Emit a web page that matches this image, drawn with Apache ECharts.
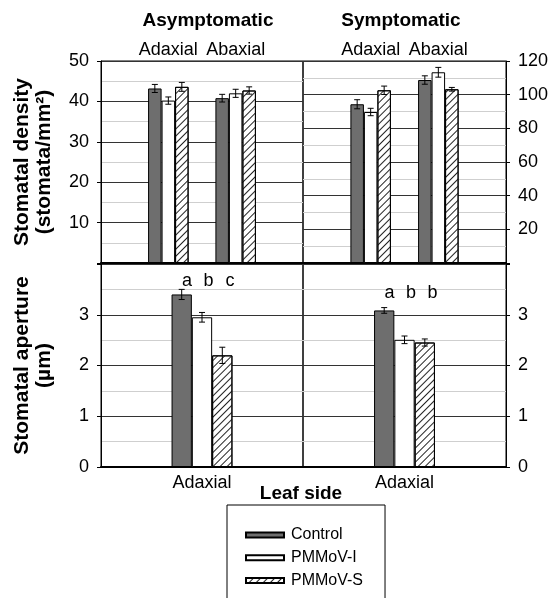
<!DOCTYPE html>
<html>
<head>
<meta charset="utf-8">
<script src="https://cdn.jsdelivr.net/npm/echarts@6/dist/echarts.min.js"></script>
<style>
  html, body { margin: 0; padding: 0; background: #fff; }
  #chart { width: 550px; height: 598px; }
</style>
</head>
<body>
<div id="chart"></div>
<script>
const FONT = '"Liberation Sans", Arial, sans-serif';

const treatments = ['Control', 'PMMoV-I', 'PMMoV-S'];
const densitySides = ['Adaxial', 'Abaxial'];
const apertureSides = ['Adaxial'];
const panelTitles = ['Asymptomatic', 'Symptomatic'];

// rows follow treatments, columns follow leaf sides
const densityAsym = [[43.2, 40.8], [40.2, 42.0], [43.6, 42.7]];
const densityAsymErr = [[1.0, 0.95], [0.9, 1.0], [1.1, 0.9]];
const densitySym = [[94.3, 108.7], [89.7, 113.3], [102.6, 103.2]];
const densitySymErr = [[2.7, 2.5], [2.2, 2.9], [2.5, 1.1]];
const apertureAsym = [[3.40], [2.95], [2.20]];
const apertureAsymErr = [[0.10], [0.095], [0.16]];
const apertureSym = [[3.085], [2.506], [2.453]];
const apertureSymErr = [[0.056], [0.075], [0.07]];
const lettersAsym = ['a', 'b', 'c'];
const lettersSym = ['a', 'b', 'b'];

const densityAsymTicks = [10, 20, 30, 40, 50];
const densitySymTicks = [20, 40, 60, 80, 100, 120];
const apertureTicks = [0, 1, 2, 3];

const hatch = {
  symbol: 'rect', symbolSize: 1,
  dashArrayX: [1, 0], dashArrayY: [1, 4],
  rotation: -Math.PI / 4, color: '#222'
};
const treatmentStyles = [
  { color: '#6e6e6e', borderColor: '#000', borderWidth: 1 },
  { color: '#ffffff', borderColor: '#000', borderWidth: 1 },
  { color: '#ffffff', borderColor: '#000', borderWidth: 1, decal: hatch }
];

const DENSITY_BAR = 13.5;
const APERTURE_BAR = 20.3;

function barSeries(values, xAxisIndex, yAxisIndex, barWidth, shift) {
  return treatments.map((name, s) => ({
    type: 'bar', name, xAxisIndex, yAxisIndex, barWidth, barGap: '0%',
    silent: true, z: 2,
    itemStyle: treatmentStyles[s],
    data: values[s].map((v, i) => [i + shift, v])
  }));
}

function errorSeries(values, errs, xAxisIndex, yAxisIndex, barWidth, shift) {
  const data = [];
  values.forEach((row, s) => row.forEach((v, i) => data.push([i + shift, v, errs[s][i], s])));
  return {
    type: 'custom', xAxisIndex, yAxisIndex, silent: true, z: 5, data,
    encode: { x: 0, y: 1 },
    renderItem(params, api) {
      const c = api.value(0), m = api.value(1), e = api.value(2), s = api.value(3);
      const hi = api.coord([c, m + e]);
      const lo = api.coord([c, m - e]);
      const x = hi[0] + (s - 1) * barWidth;
      const cap = 3;
      const st = { stroke: '#000', lineWidth: 1 };
      return {
        type: 'group',
        children: [
          { type: 'line', shape: { x1: x, y1: hi[1], x2: x, y2: lo[1] }, style: st },
          { type: 'line', shape: { x1: x - cap, y1: hi[1], x2: x + cap, y2: hi[1] }, style: st },
          { type: 'line', shape: { x1: x - cap, y1: lo[1], x2: x + cap, y2: lo[1] }, style: st }
        ]
      };
    }
  };
}

function letterSeries(letters, level, xAxisIndex, yAxisIndex) {
  return {
    type: 'custom', xAxisIndex, yAxisIndex, silent: true, z: 6,
    data: letters.map((t, i) => [0, level, i]),
    encode: { x: 0, y: 1 },
    renderItem(params, api) {
      const p = api.coord([api.value(0), api.value(1)]);
      const i = api.value(2);
      return {
        type: 'text',
        x: p[0] + (i - 1) * 21.5 + 6.5, y: p[1],
        style: {
          text: letters[params.dataIndex], fill: '#000',
          font: '18px ' + FONT, textAlign: 'center', textVerticalAlign: 'middle'
        }
      };
    }
  };
}

const labelStyle = { fontSize: 18, color: '#000', fontFamily: FONT };
const nameStyle = { fontSize: 21, fontWeight: 'bold', color: '#000', fontFamily: FONT, lineHeight: 22 };
const gridBase = { show: true, borderColor: '#000', borderWidth: 1, backgroundColor: 'transparent', containLabel: false, outerBoundsMode: 'none' };

function topLabelAxis(gridIndex) {
  return {
    gridIndex, type: 'category', data: ['', ...densitySides, ''], boundaryGap: false, position: 'top',
    axisLine: { show: false }, axisTick: { show: false }, splitLine: { show: false },
    axisLabel: Object.assign({ margin: 2, interval: 0 }, labelStyle)
  };
}
function baseLineAxis(gridIndex) {
  return {
    gridIndex, type: 'category', data: ['', ...densitySides, ''], boundaryGap: false, position: 'bottom',
    axisLine: { show: true, lineStyle: { color: '#000', width: 2 } },
    axisTick: { show: false }, axisLabel: { show: false }, splitLine: { show: false }
  };
}
function apertureXAxis(gridIndex) {
  return {
    gridIndex, type: 'category', data: apertureSides, position: 'bottom',
    axisLine: { show: true, lineStyle: { color: '#000', width: 2 } },
    axisTick: { show: false }, splitLine: { show: false },
    axisLabel: Object.assign({ margin: 7, interval: 0 }, labelStyle)
  };
}
function valueAxis(gridIndex, position, min, max, interval, ticks, name) {
  const ax = {
    gridIndex, type: 'value', position, min, max, interval,
    axisLine: { show: true, lineStyle: { color: '#000', width: 1 } },
    axisTick: { show: true, length: 4, lineStyle: { color: '#000' } },
    axisLabel: Object.assign({
      margin: 12, showMinLabel: true, showMaxLabel: true,
      formatter: v => (ticks.includes(v) ? String(v) : '')
    }, labelStyle),
    splitLine: { show: true, lineStyle: { color: '#333', width: 1 } },
    minorTick: { show: false, splitNumber: 2 },
    minorSplitLine: { show: true, lineStyle: { color: '#cfcfcf', width: 1 } }
  };
  if (name) {
    Object.assign(ax, { name, nameLocation: 'middle', nameRotate: 90, nameGap: 46, nameTextStyle: nameStyle });
  }
  return ax;
}

const option = {
  backgroundColor: '#fff',
  animation: false,
  title: [
    { text: panelTitles[0], left: 208, top: 11, textAlign: 'center', padding: 0,
      textStyle: { fontSize: 19, fontWeight: 'bold', color: '#000', fontFamily: FONT } },
    { text: panelTitles[1], left: 401, top: 11, textAlign: 'center', padding: 0,
      textStyle: { fontSize: 19, fontWeight: 'bold', color: '#000', fontFamily: FONT } },
    { text: 'Leaf side', left: 301, top: 484, textAlign: 'center', padding: 0,
      textStyle: { fontSize: 19, fontWeight: 'bold', color: '#000', fontFamily: FONT } }
  ],
  legend: {
    data: treatments, orient: 'vertical', left: 227, top: 505, height: 120,
    padding: [22, 22, 40, 18], itemGap: 6.7, itemWidth: 38, itemHeight: 5, icon: 'rect',
    borderColor: '#000', borderWidth: 1, selectedMode: false,
    textStyle: { fontSize: 16, color: '#000', fontFamily: FONT, lineHeight: 16, padding: [0, 0, 0, 2] }
  },
  grid: [
    Object.assign({ left: 101, top: 61, width: 202, height: 202 }, gridBase),
    Object.assign({ left: 303, top: 61, width: 203, height: 202 }, gridBase),
    Object.assign({ left: 101, top: 264, width: 202, height: 203 }, gridBase),
    Object.assign({ left: 303, top: 264, width: 203, height: 203 }, gridBase)
  ],
  xAxis: [
    topLabelAxis(0), baseLineAxis(0),
    topLabelAxis(1), baseLineAxis(1),
    apertureXAxis(2), apertureXAxis(3)
  ],
  yAxis: [
    valueAxis(0, 'left', 0, 50, 10, densityAsymTicks, 'Stomatal density\n(stomata/mm²)'),
    valueAxis(1, 'right', 0, 120, 20, densitySymTicks),
    valueAxis(2, 'left', 0, 4, 1, apertureTicks, 'Stomatal aperture\n(µm)'),
    valueAxis(3, 'right', 0, 4, 1, apertureTicks)
  ],
  series: [
    ...barSeries(densityAsym, 0, 0, DENSITY_BAR, 1),
    errorSeries(densityAsym, densityAsymErr, 0, 0, DENSITY_BAR, 1),
    ...barSeries(densitySym, 2, 1, DENSITY_BAR, 1),
    errorSeries(densitySym, densitySymErr, 2, 1, DENSITY_BAR, 1),
    ...barSeries(apertureAsym, 4, 2, APERTURE_BAR, 0),
    errorSeries(apertureAsym, apertureAsymErr, 4, 2, APERTURE_BAR, 0),
    letterSeries(lettersAsym, 3.66, 4, 2),
    ...barSeries(apertureSym, 5, 3, APERTURE_BAR, 0),
    errorSeries(apertureSym, apertureSymErr, 5, 3, APERTURE_BAR, 0),
    letterSeries(lettersSym, 3.43, 5, 3)
  ]
};

const chart = echarts.init(document.getElementById('chart'), null, { renderer: 'canvas' });
chart.setOption(option);
</script>
</body>
</html>
